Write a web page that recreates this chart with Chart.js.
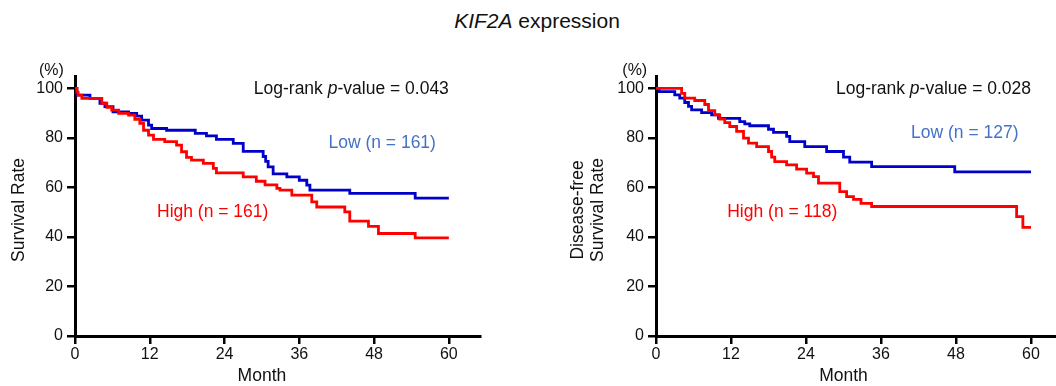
<!DOCTYPE html>
<html>
<head>
<meta charset="utf-8">
<script src="https://cdn.jsdelivr.net/npm/chart.js@4.4.1/dist/chart.umd.min.js"></script>
<style>
  html, body { margin: 0; padding: 0; background: #fff; overflow: hidden; }
  body { width: 1056px; height: 386px; position: relative; font-family: "Liberation Sans", Arial, sans-serif; }
  #title { position: absolute; top: 9px; left: 537px; transform: translateX(-50%); font-size: 21px; line-height: 24px; color: #111; white-space: nowrap; }
  #os { position: absolute; left: 0; top: 0; }
  #dfs { position: absolute; left: 540px; top: 0; }
</style>
</head>
<body>
<div id="title"><i>KIF2A</i> expression</div>
<canvas id="os" width="500" height="386"></canvas>
<canvas id="dfs" width="516" height="386"></canvas>
<script>
// tick labels
var monthTicks = [0, 12, 24, 36, 48, 60];
var rateTicks = [0, 20, 40, 60, 80, 100];

// overall survival, low expression (n = 161)
var osLowMonths = [0, 0.3, 2.4, 4.0, 4.8, 6.1, 8.6, 9.9, 10.7, 11.8, 12.3, 14.7, 19.3, 21.1, 22.7, 25.4, 27.0, 30.2, 30.6, 31.0, 31.8, 34.0, 36.0, 37.2, 37.7, 44.1, 54.6, 60];
var osLowRate = [100, 97.3, 96, 94, 92.6, 90.5, 89.9, 88.8, 87.2, 85.2, 83.8, 83.1, 81.8, 80.8, 79.4, 77.8, 74.6, 72.5, 70.5, 68.3, 65.5, 64.3, 62.9, 60.9, 58.9, 57.6, 55.7, 55.7];

// overall survival, high expression (n = 161)
var osHighMonths = [0, 0.3, 0.5, 1.1, 4.3, 5.1, 5.9, 7.0, 8.6, 9.6, 10.4, 11.0, 11.8, 12.6, 14.4, 16.3, 17.1, 17.9, 18.7, 20.6, 22.2, 22.7, 27.0, 29.1, 30.5, 32.4, 32.9, 34.8, 38.0, 38.8, 43.3, 44.1, 47.1, 48.7, 54.6, 60];
var osHighRate = [100, 98.5, 97.3, 96, 94, 92.3, 91.2, 89.9, 89.2, 87.5, 85.9, 83.1, 81.1, 79.4, 78.5, 77.1, 74.4, 72.1, 71, 69.7, 67.7, 65.9, 64.3, 62.5, 61.0, 59.6, 58.9, 56.9, 54.2, 52.1, 50.1, 46.4, 44.3, 41.4, 39.6, 39.6];

// disease-free survival, low expression (n = 127)
var dfsLowMonths = [0, 0.5, 3.0, 3.8, 4.6, 5.2, 5.7, 7.3, 8.9, 10.0, 13.4, 14.2, 15.0, 18.0, 18.8, 20.9, 21.4, 23.8, 27.3, 30.0, 31.0, 34.5, 47.8, 60];
var dfsLowRate = [100, 98.7, 97.4, 96.1, 94.3, 92.7, 91.3, 90.2, 89.3, 87.9, 86.6, 85.7, 84.9, 83.5, 82.2, 80.6, 78.5, 76.5, 74.5, 72.2, 70.2, 68.4, 66.3, 66.3];

// disease-free survival, high expression (n = 118)
var dfsHighMonths = [0, 4.1, 4.6, 6.2, 7.8, 8.4, 9.4, 10.2, 11.0, 11.8, 12.9, 14.0, 14.8, 16.1, 18.0, 18.5, 19.0, 20.9, 22.5, 24.1, 25.2, 26.0, 29.4, 30.5, 31.6, 32.8, 34.5, 57.7, 58.7, 60];
var dfsHighRate = [100, 98, 96.1, 95.1, 93.5, 91, 89.3, 87.6, 86.2, 84.6, 82.6, 79.9, 77.9, 76.5, 74.5, 72.2, 70.4, 69.1, 67.4, 65.8, 64.4, 61.7, 58.3, 56.3, 55.2, 53.6, 52.3, 48.2, 43.9, 43.9];

var osCounts = { low: 161, high: 161 };
var dfsCounts = { low: 127, high: 118 };
var osPValue = '0.043';
var dfsPValue = '0.028';

var FONT = '"Liberation Sans", Arial, sans-serif';
var LINE_BLUE = '#0000c8';
var LINE_RED = '#ff0000';
var TEXT_BLUE = '#4472c4';
var INK = '#111';

function points(xs, ys) {
  return xs.map(function (m, i) { return { x: m, y: ys[i] }; });
}

function fontOf(part, size) {
  return (part[1] ? 'italic ' : '') + size + 'px ' + FONT;
}

// draws the text notes of a panel, placed in data units
var notesPlugin = {
  id: 'notes',
  afterDraw: function (chart, args, opts) {
    var ctx = chart.ctx;
    var xs = chart.scales.x, ys = chart.scales.y;
    ctx.save();
    ctx.textBaseline = 'middle';
    opts.items.forEach(function (it) {
      var px = xs.getPixelForValue(it.at[0]);
      var py = ys.getPixelForValue(it.at[1]);
      var size = it.size || 17.5;
      var widths = it.parts.map(function (p) {
        ctx.font = fontOf(p, size);
        return ctx.measureText(p[0]).width;
      });
      var total = widths.reduce(function (a, b) { return a + b; }, 0);
      ctx.translate(px, py);
      if (it.rotate) ctx.rotate(-Math.PI / 2);
      var start = it.align === 'right' ? -total : it.align === 'left' ? 0 : -total / 2;
      ctx.fillStyle = it.color || INK;
      ctx.textAlign = 'left';
      it.parts.forEach(function (p, i) {
        ctx.font = fontOf(p, size);
        ctx.fillText(p[0], start, 0);
        start += widths[i];
      });
      ctx.setTransform(1, 0, 0, 1, 0, 0);
    });
    ctx.restore();
  }
};

function makePanel(id, low, high, xMax, yAxisWidth, rightPad, notes) {
  var ctx = document.getElementById(id).getContext('2d');
  return new Chart(ctx, {
    type: 'line',
    data: {
      datasets: [{
        label: 'High',
        data: high,
        borderColor: LINE_RED,
        borderWidth: 2.8,
        stepped: true,
        pointRadius: 0,
        fill: false
      }, {
        label: 'Low',
        data: low,
        borderColor: LINE_BLUE,
        borderWidth: 2.8,
        stepped: true,
        pointRadius: 0,
        fill: false
      }]
    },
    options: {
      responsive: false,
      animation: false,
      layout: { padding: { left: 0, right: rightPad, top: 76, bottom: 0 } },
      plugins: {
        legend: { display: false },
        tooltip: { enabled: false },
        notes: { items: notes }
      },
      scales: {
        x: {
          type: 'linear',
          min: 0,
          max: xMax,
          afterBuildTicks: function (s) { s.ticks = monthTicks.map(function (v) { return { value: v }; }); },
          afterFit: function (s) { s.height = 50; },
          border: { color: '#000', width: 3 },
          grid: { drawOnChartArea: false, color: '#000', lineWidth: 2.5, tickLength: 8 },
          ticks: { color: INK, font: { size: 16, family: FONT }, padding: 1, maxRotation: 0 }
        },
        y: {
          min: 0,
          max: 105,
          afterBuildTicks: function (s) { s.ticks = rateTicks.map(function (v) { return { value: v }; }); },
          afterFit: function (s) { s.width = yAxisWidth; },
          border: { color: '#000', width: 3 },
          grid: { drawOnChartArea: false, color: '#000', lineWidth: 2.5, tickLength: 8 },
          ticks: { color: INK, font: { size: 16, family: FONT }, padding: 4 }
        }
      }
    },
    plugins: [notesPlugin]
  });
}

var osNotes = [
  { parts: [['Log-rank '], ['p', true], ['-value = ' + osPValue]], at: [60, 99.7], align: 'right' },
  { parts: [['Low (n = ' + osCounts.low + ')']], at: [49.3, 77.9], color: TEXT_BLUE },
  { parts: [['High (n = ' + osCounts.high + ')']], at: [22.1, 50.2], color: LINE_RED },
  { parts: [['(%)']], at: [-3.8, 107.2], size: 16 },
  { parts: [['Month']], at: [30, -16.2] },
  { parts: [['Survival Rate']], at: [-9.0, 50.9], rotate: true }
];

var dfsNotes = [
  { parts: [['Log-rank '], ['p', true], ['-value = ' + dfsPValue]], at: [60, 99.7], align: 'right' },
  { parts: [['Low (n = ' + dfsCounts.low + ')']], at: [49.4, 81.9], color: TEXT_BLUE },
  { parts: [['High (n = ' + dfsCounts.high + ')']], at: [20.2, 50.2], color: LINE_RED },
  { parts: [['(%)']], at: [-3.4, 107.2], size: 16 },
  { parts: [['Month']], at: [30, -16.2] },
  { parts: [['Disease-free']], at: [-12.5, 50.9], rotate: true },
  { parts: [['Survival Rate']], at: [-9.3, 50.9], rotate: true }
];

makePanel('os', points(osLowMonths, osLowRate), points(osHighMonths, osHighRate), 65, 75, 20, osNotes);
makePanel('dfs', points(dfsLowMonths, dfsLowRate), points(dfsHighMonths, dfsHighRate), 64, 116, 0, dfsNotes);
</script>
</body>
</html>
